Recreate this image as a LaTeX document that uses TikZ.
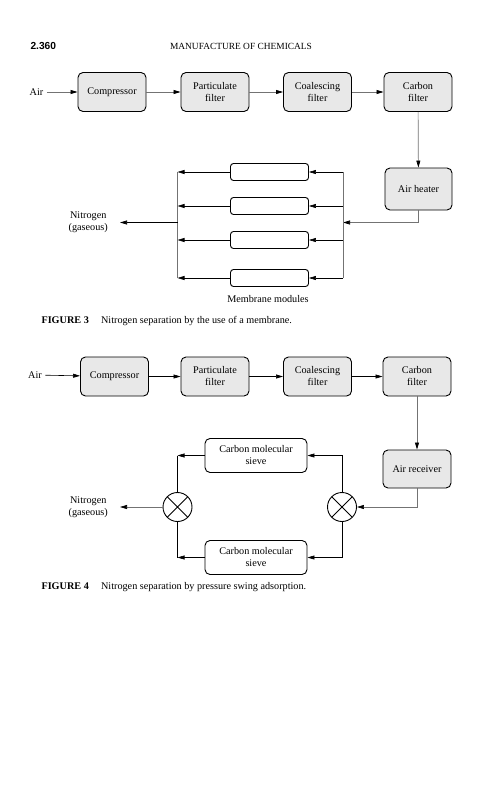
\documentclass[tikz,border=0pt]{standalone}
\usepackage{fontspec}
\setmainfont{Liberation Serif}
\newfontfamily\headsans{Liberation Sans}
\usetikzlibrary{arrows.meta}

\begin{document}
\begin{tikzpicture}[
    x=1pt, y=-1pt,
    font=\fontsize{10.2}{12}\selectfont,
    unit/.style={draw,line width=0.9pt,rounded corners=5pt,fill=gray!18,
      minimum width=68pt,minimum height=39pt,align=center},
    module/.style={draw,line width=0.9pt,rounded corners=3pt,minimum width=78pt,minimum height=17pt},
    sieve/.style={draw,line width=0.9pt,rounded corners=5pt,minimum width=102pt,minimum height=34pt,align=center},
    valve/.style={draw,line width=0.9pt,circle,minimum size=29pt,inner sep=0pt,
      path picture={\draw[line width=0.9pt] (path picture bounding box.north west) -- (path picture bounding box.south east)
        (path picture bounding box.north east) -- (path picture bounding box.south west);}},
    flow/.style={draw,line width=0.6pt,-{Triangle[length=7pt,width=4pt]}},
    grayflow/.style={draw,line width=0.7pt,black!55,-{Triangle[length=7pt,width=4pt,color=black]}},
    pipe/.style={draw,line width=0.6pt},
    graypipe/.style={draw,line width=0.7pt,black!55},
    tag/.style={align=center}]
  \useasboundingbox (0,0) rectangle (481,800);
  % page head
  \node[anchor=west,font=\headsans\bfseries\fontsize{10.2}{12}\selectfont] (page) at (27,46) {2.360};
  \node[font=\fontsize{9.4}{11}\selectfont] (running) at (241,46) {MANUFACTURE OF CHEMICALS};

  % figure 3: membrane
  \node[tag] (airA) at (36.5,92) {Air};
  \node[unit] (compA) at (112,92) {Compressor};
  \node[unit] (partA) at (215,92) {Particulate\\filter};
  \node[unit] (coalA) at (317.5,92) {Coalescing\\filter};
  \node[unit] (carbA) at (418,92) {Carbon\\filter};
  \node[unit,minimum width=67pt,minimum height=42pt] (heat) at (418.5,189) {Air heater};
  \foreach \y [count=\i] in {172,206,240,278}
    \node[module] (mod\i) at (269.5,\y) {};
  \node (modlabel) at (268,299) {Membrane modules};
  \coordinate (inlet) at (343,222.5);
  \coordinate (outlet) at (177.5,222.5);
  \node[tag,anchor=east,inner xsep=12pt] (nitroA) at (120,222.5) {Nitrogen\\(gaseous)};
  \draw[grayflow] (airA) -- (compA);
  \draw[grayflow] (compA) -- (partA);
  \draw[grayflow] (partA) -- (coalA);
  \draw[grayflow] (coalA) -- (carbA);
  \draw[grayflow] (carbA) -- (heat);
  \draw[grayflow] (heat.south) |- (inlet);
  \draw[graypipe] (mod1.east -| inlet) -- (mod4.east -| inlet);
  \draw[graypipe] (mod1.west -| outlet) -- (mod4.west -| outlet);
  \foreach \i in {1,...,4} {
    \draw[flow] (mod\i.east -| inlet) -- (mod\i.east);
    \draw[flow] (mod\i.west) -- (mod\i.west -| outlet);
  }
  \draw[flow] (outlet) -- (nitroA);
  \node[anchor=west] (capA) at (38,321) {\textbf{FIGURE 3}\hspace{1.2em}Nitrogen separation by the use of a membrane.};

  % figure 4: pressure swing adsorption
  \node[tag] (airB) at (35,375) {Air};
  \node[unit] (compB) at (114.5,376.5) {Compressor};
  \node[unit] (partB) at (215,376.5) {Particulate\\filter};
  \node[unit] (coalB) at (317.5,376.5) {Coalescing\\filter};
  \node[unit] (carbB) at (417,376.5) {Carbon\\filter};
  \node[unit,minimum height=38pt] (recv) at (417,469) {Air receiver};
  \node[sieve] (sieveA) at (256,455.5) {Carbon molecular\\sieve};
  \node[sieve] (sieveB) at (256,557.5) {Carbon molecular\\sieve};
  \node[valve] (valveL) at (177.5,507) {};
  \node[valve] (valveR) at (342,507) {};
  \node[tag,anchor=east,inner xsep=12pt] (nitroB) at (120,507) {Nitrogen\\(gaseous)};
  \draw[flow] (airB) -- (compB);
  \draw[flow] (compB) -- (partB);
  \draw[flow] (partB) -- (coalB);
  \draw[flow] (coalB) -- (carbB);
  \draw[grayflow] (carbB) -- (recv);
  \draw[grayflow] (recv.south) |- (valveR.east);
  \draw[flow] (valveR.north) |- (sieveA.east);
  \draw[flow] (valveR.south) |- (sieveB.east);
  \draw[flow] (sieveA.west) -- (sieveA.west -| valveL);
  \draw[pipe] (sieveA.west -| valveL) -- (valveL.north);
  \draw[flow] (sieveB.west) -- (sieveB.west -| valveL);
  \draw[pipe] (sieveB.west -| valveL) -- (valveL.south);
  \draw[grayflow] (valveL) -- (nitroB);
  \node[anchor=west] (capB) at (38,587) {\textbf{FIGURE 4}\hspace{1.2em}Nitrogen separation by pressure swing adsorption.};
\end{tikzpicture}
\end{document}
